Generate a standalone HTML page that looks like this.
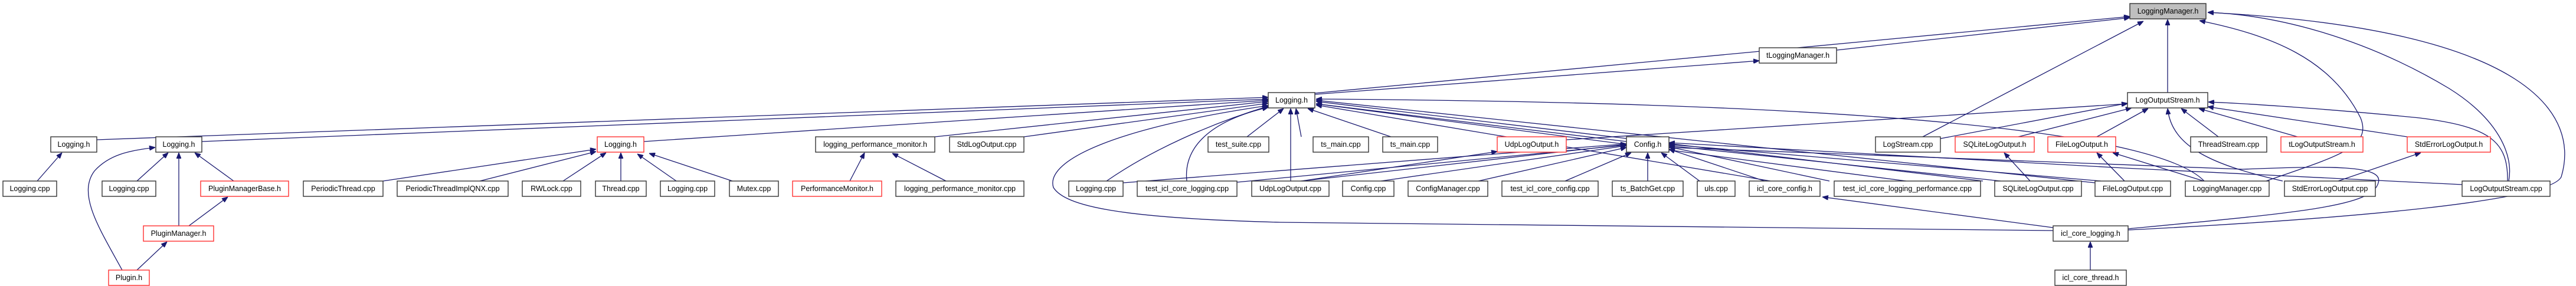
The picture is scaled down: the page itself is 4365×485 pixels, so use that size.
<!DOCTYPE html>
<html><head><meta charset="utf-8"><style>
html,body{margin:0;padding:0;background:#fff;}
svg{display:block;}
text{font-family:"Liberation Sans",sans-serif;font-size:12.5px;fill:#000;}
.e{fill:none;stroke:#191970;stroke-width:1.3;marker-end:url(#a);}
.n{fill:#fff;stroke:#333;stroke-width:1.4;}
.r{fill:#fff;stroke:#ff3030;stroke-width:1.4;}
</style></head><body>
<svg width="4365" height="485" viewBox="0 0 4365 485" xmlns="http://www.w3.org/2000/svg">
<defs><marker id="a" viewBox="0 0 10 8" refX="10" refY="4" markerWidth="10" markerHeight="8" markerUnits="userSpaceOnUse" orient="auto"><path d="M0,0L10,4L0,8z" fill="#191970" stroke="#191970"/></marker></defs>
<g>
<!-- left group -->
<path class="e" d="M63,307L105,259"/>
<path class="e" d="M232,307L285,259"/>
<path class="e" d="M303,383L303,259"/>
<path class="e" d="M396,307L330,259"/>
<path class="e" d="M207,458C170,390 130,330 160,290C185,262 220,255 263,250"/>
<path class="e" d="M232,458L283,410"/>
<path class="e" d="M320,383L386,334"/>
<path class="e" d="M164,237L2149,165"/>
<path class="e" d="M342,240L2149,168"/>
<!-- Logging.h red -->
<path class="e" d="M649,307L1010,253"/>
<path class="e" d="M813,307L1010,257"/>
<path class="e" d="M954,307L1027,259"/>
<path class="e" d="M1052,307L1052,259"/>
<path class="e" d="M1146,307L1080,261"/>
<path class="e" d="M1241,307L1100,260"/>
<path class="e" d="M1091,240L2149,170"/>
<!-- lpm -->
<path class="e" d="M1440,307L1465,259"/>
<path class="e" d="M1603,307L1512,260"/>
<path class="e" d="M1584,232L2149,172"/>
<path class="e" d="M1735,232L2149,175"/>
<!-- LH bottom -->
<path class="e" d="M1875,307C1950,255 2050,210 2149,180"/>
<path class="e" d="M2011,307C2005,250 2050,205 2149,182"/>
<path class="e" d="M3479,391L2170,377C1900,370 1805,350 1785,318C1770,270 1900,215 2149,179"/>
<path class="e" d="M2113,232L2175,184"/>
<path class="e" d="M2187,307L2187,184"/>
<path class="e" d="M2205,232L2196,184"/>
<path class="e" d="M2357,232L2216,184"/>
<path class="e" d="M2756,240L2230,176"/>
<path class="e" d="M3360,307L2230,172"/>
<path class="e" d="M3550,310L2230,170"/>
<path class="e" d="M3735,307C3680,250 3400,175 2230,168"/>
<path class="e" d="M3230,307L2230,176"/>
<path class="e" d="M3000,307L2230,178"/>
<path class="e" d="M2228,160L2981,103"/>
<path class="e" d="M2228,158L3609,28"/>
<!-- Config.h -->
<path class="e" d="M2205,307L2537,257"/>
<path class="e" d="M2205,307L2756,245"/>
<path class="e" d="M2340,307L2756,247"/>
<path class="e" d="M2505,307L2756,250"/>
<path class="e" d="M2652,307L2764,259"/>
<path class="e" d="M2792,307L2792,259"/>
<path class="e" d="M2880,307L2815,259"/>
<path class="e" d="M2990,307L2828,253"/>
<path class="e" d="M3100,307L2828,249"/>
<path class="e" d="M3390,307L2828,247"/>
<path class="e" d="M3560,307L2828,245"/>
<path class="e" d="M1903,310L2756,244"/>
<path class="e" d="M2096,309L2756,246"/>
<path class="e" d="M4172,313L3600,285L2828,242"/>
<path class="e" d="M3606,388C3900,360 4020,350 4030,310C4040,280 3950,281 3800,287L2828,250"/>
<!-- LM -->
<path class="e" d="M3112,85L3609,30"/>
<path class="e" d="M3258,232L3632,36"/>
<path class="e" d="M3673,157L3673,33"/>
<path class="e" d="M3840,307C3960,265 4020,250 4000,200C3950,100 3850,60 3727,35"/>
<path class="e" d="M4251,307C4260,260 4230,200 4150,150C4000,60 3850,25 3741,21"/>
<path class="e" d="M3606,390C4000,370 4320,340 4340,300C4370,200 4300,50 3741,21"/>
<!-- LOS -->
<path class="e" d="M3288,235L3605,175"/>
<path class="e" d="M2654,237L3605,176"/>
<path class="e" d="M3420,232L3612,183"/>
<path class="e" d="M3553,232L3640,184"/>
<path class="e" d="M3759,232L3696,184"/>
<path class="e" d="M3893,232L3726,184"/>
<path class="e" d="M4079,232L3741,181"/>
<path class="e" d="M4249,307C4250,240 4220,215 4100,200C3950,185 3800,175 3742,173"/>
<path class="e" d="M3868,307C3750,280 3680,250 3673,184"/>
<path class="e" d="M3734,307L3580,259"/>
<path class="e" d="M3440,307L3396,259"/>
<path class="e" d="M3600,307L3553,259"/>
<path class="e" d="M3962,307L4102,259"/>
<path class="e" d="M3479,386L3088,334"/>
<path class="e" d="M3542,458L3542,410"/>
</g>
<g>
<rect x="3609" y="6" width="129" height="26" fill="#bfbfbf" stroke="#333" stroke-width="1.4"/><text x="3673.5" y="23" text-anchor="middle">LoggingManager.h</text>
<rect class="n" x="2981" y="81" width="131" height="26"/><text x="3046.5" y="98" text-anchor="middle">tLoggingManager.h</text>
<rect class="n" x="2149" y="157" width="79" height="26"/><text x="2188.5" y="174" text-anchor="middle">Logging.h</text>
<rect class="n" x="3605" y="157" width="136" height="26"/><text x="3673" y="174" text-anchor="middle">LogOutputStream.h</text>

<rect class="n" x="86" y="232" width="78" height="26"/><text x="125" y="249" text-anchor="middle">Logging.h</text>
<rect class="n" x="264" y="232" width="78" height="26"/><text x="303" y="249" text-anchor="middle">Logging.h</text>
<rect class="r" x="1012" y="232" width="79" height="26"/><text x="1051.5" y="249" text-anchor="middle">Logging.h</text>
<rect class="n" x="1382" y="232" width="202" height="26"/><text x="1483" y="249" text-anchor="middle">logging_performance_monitor.h</text>
<rect class="n" x="1609" y="232" width="126" height="26"/><text x="1672" y="249" text-anchor="middle">StdLogOutput.cpp</text>
<rect class="n" x="2047" y="232" width="103" height="26"/><text x="2098.5" y="249" text-anchor="middle">test_suite.cpp</text>
<rect class="n" x="2225" y="232" width="94" height="26"/><text x="2272" y="249" text-anchor="middle">ts_main.cpp</text>
<rect class="n" x="2343" y="232" width="93" height="26"/><text x="2389.5" y="249" text-anchor="middle">ts_main.cpp</text>
<rect class="r" x="2537" y="232" width="117" height="26"/><text x="2595.5" y="249" text-anchor="middle">UdpLogOutput.h</text>
<rect class="n" x="2756" y="232" width="72" height="26"/><text x="2792" y="249" text-anchor="middle">Config.h</text>
<rect class="n" x="3178" y="232" width="110" height="26"/><text x="3233" y="249" text-anchor="middle">LogStream.cpp</text>
<rect class="r" x="3313" y="232" width="134" height="26"/><text x="3380" y="249" text-anchor="middle">SQLiteLogOutput.h</text>
<rect class="r" x="3470" y="232" width="115" height="26"/><text x="3527.5" y="249" text-anchor="middle">FileLogOutput.h</text>
<rect class="n" x="3712" y="232" width="129" height="26"/><text x="3776.5" y="249" text-anchor="middle">ThreadStream.cpp</text>
<rect class="r" x="3865" y="232" width="139" height="26"/><text x="3934.5" y="249" text-anchor="middle">tLogOutputStream.h</text>
<rect class="r" x="4079" y="232" width="141" height="26"/><text x="4149.5" y="249" text-anchor="middle">StdErrorLogOutput.h</text>

<rect class="n" x="5" y="307" width="91" height="26"/><text x="50.5" y="324" text-anchor="middle">Logging.cpp</text>
<rect class="n" x="173" y="307" width="91" height="26"/><text x="218.5" y="324" text-anchor="middle">Logging.cpp</text>
<rect class="r" x="340" y="307" width="149" height="26"/><text x="414.5" y="324" text-anchor="middle">PluginManagerBase.h</text>
<rect class="n" x="514" y="307" width="135" height="26"/><text x="581.5" y="324" text-anchor="middle">PeriodicThread.cpp</text>
<rect class="n" x="673" y="307" width="188" height="26"/><text x="767" y="324" text-anchor="middle">PeriodicThreadImplQNX.cpp</text>
<rect class="n" x="885" y="307" width="99" height="26"/><text x="934.5" y="324" text-anchor="middle">RWLock.cpp</text>
<rect class="n" x="1009" y="307" width="86" height="26"/><text x="1052" y="324" text-anchor="middle">Thread.cpp</text>
<rect class="n" x="1119" y="307" width="92" height="26"/><text x="1165" y="324" text-anchor="middle">Logging.cpp</text>
<rect class="n" x="1236" y="307" width="83" height="26"/><text x="1277.5" y="324" text-anchor="middle">Mutex.cpp</text>
<rect class="r" x="1343" y="307" width="151" height="26"/><text x="1418.5" y="324" text-anchor="middle">PerformanceMonitor.h</text>
<rect class="n" x="1518" y="307" width="217" height="26"/><text x="1626.5" y="324" text-anchor="middle">logging_performance_monitor.cpp</text>
<rect class="n" x="1811" y="307" width="92" height="26"/><text x="1857" y="324" text-anchor="middle">Logging.cpp</text>
<rect class="n" x="1927" y="307" width="169" height="26"/><text x="2011.5" y="324" text-anchor="middle">test_icl_core_logging.cpp</text>
<rect class="n" x="2121" y="307" width="131" height="26"/><text x="2186.5" y="324" text-anchor="middle">UdpLogOutput.cpp</text>
<rect class="n" x="2275" y="307" width="87" height="26"/><text x="2318.5" y="324" text-anchor="middle">Config.cpp</text>
<rect class="n" x="2386" y="307" width="135" height="26"/><text x="2453.5" y="324" text-anchor="middle">ConfigManager.cpp</text>
<rect class="n" x="2545" y="307" width="163" height="26"/><text x="2626.5" y="324" text-anchor="middle">test_icl_core_config.cpp</text>
<rect class="n" x="2732" y="307" width="120" height="26"/><text x="2792" y="324" text-anchor="middle">ts_BatchGet.cpp</text>
<rect class="n" x="2876" y="307" width="64" height="26"/><text x="2908" y="324" text-anchor="middle">uls.cpp</text>
<rect class="n" x="2964" y="307" width="120" height="26"/><text x="3024" y="324" text-anchor="middle">icl_core_config.h</text>
<rect class="n" x="3108" y="307" width="248" height="26"/><text x="3232" y="324" text-anchor="middle">test_icl_core_logging_performance.cpp</text>
<rect class="n" x="3380" y="307" width="147" height="26"/><text x="3453.5" y="324" text-anchor="middle">SQLiteLogOutput.cpp</text>
<rect class="n" x="3550" y="307" width="128" height="26"/><text x="3614" y="324" text-anchor="middle">FileLogOutput.cpp</text>
<rect class="n" x="3703" y="307" width="142" height="26"/><text x="3774" y="324" text-anchor="middle">LoggingManager.cpp</text>
<rect class="n" x="3871" y="307" width="154" height="26"/><text x="3948" y="324" text-anchor="middle">StdErrorLogOutput.cpp</text>
<rect class="n" x="4172" y="307" width="149" height="26"/><text x="4246.5" y="324" text-anchor="middle">LogOutputStream.cpp</text>

<rect class="r" x="243" y="383" width="119" height="26"/><text x="302.5" y="400" text-anchor="middle">PluginManager.h</text>
<rect class="n" x="3479" y="383" width="127" height="26"/><text x="3542.5" y="400" text-anchor="middle">icl_core_logging.h</text>
<rect class="r" x="184" y="458" width="69" height="26"/><text x="218.5" y="475" text-anchor="middle">Plugin.h</text>
<rect class="n" x="3482" y="458" width="121" height="26"/><text x="3542.5" y="475" text-anchor="middle">icl_core_thread.h</text>
</g>
</svg>
</body></html>
